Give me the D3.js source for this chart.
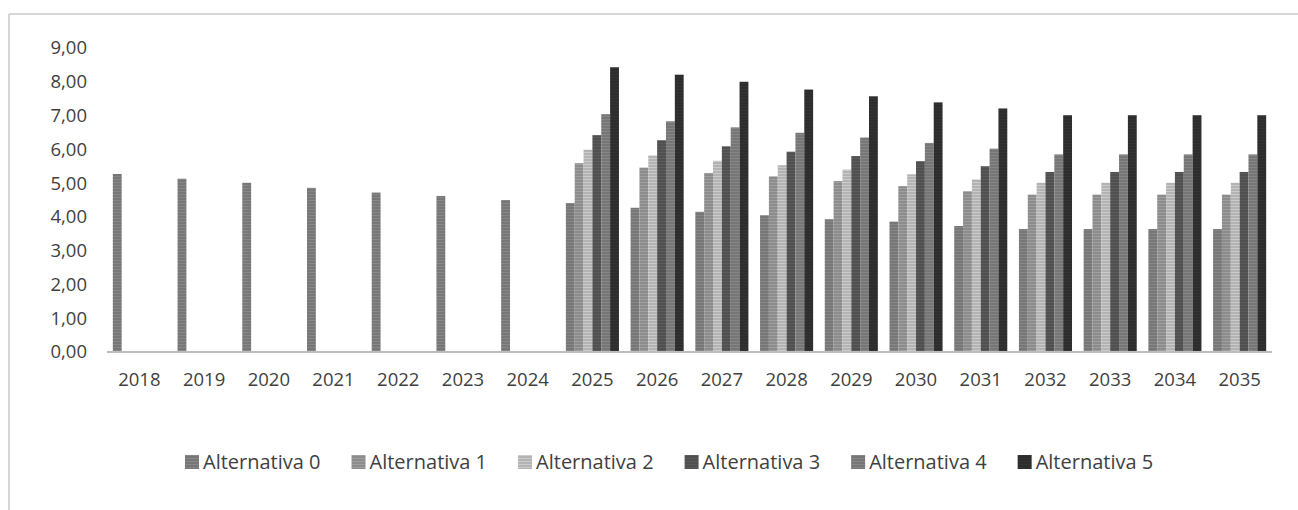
<!DOCTYPE html>
<html>
<head>
<meta charset="utf-8">
<script src="https://cdn.jsdelivr.net/npm/d3@7"></script>
<style>
  html, body { margin: 0; padding: 0; background: #fff; }
  svg { display: block; }
  text { font-family: "Open Sans", sans-serif; fill: #3f3f3f; }
</style>
</head>
<body>
<svg id="chart" width="1298" height="510"></svg>
<script>
// Years on the category axis
const years = ["2018","2019","2020","2021","2022","2023","2024","2025","2026","2027",
               "2028","2029","2030","2031","2032","2033","2034","2035"];

// Series names shown in the legend
const seriesNames = ["Alternativa 0","Alternativa 1","Alternativa 2",
                     "Alternativa 3","Alternativa 4","Alternativa 5"];

// Values per series (null = no bar for that year)
const alt0 = [5.27, 5.13, 5.01, 4.86, 4.72, 4.62, 4.50, 4.41, 4.27, 4.15, 4.05, 3.93, 3.86, 3.73, 3.64, 3.64, 3.64, 3.64];
const alt1 = [null, null, null, null, null, null, null, 5.59, 5.46, 5.30, 5.20, 5.06, 4.91, 4.76, 4.66, 4.66, 4.66, 4.66];
const alt2 = [null, null, null, null, null, null, null, 5.99, 5.82, 5.66, 5.53, 5.40, 5.26, 5.11, 5.01, 5.01, 5.01, 5.01];
const alt3 = [null, null, null, null, null, null, null, 6.42, 6.27, 6.09, 5.93, 5.80, 5.65, 5.50, 5.33, 5.33, 5.33, 5.33];
const alt4 = [null, null, null, null, null, null, null, 7.04, 6.83, 6.65, 6.49, 6.35, 6.19, 6.02, 5.85, 5.85, 5.85, 5.85];
const alt5 = [null, null, null, null, null, null, null, 8.43, 8.21, 8.00, 7.77, 7.57, 7.39, 7.21, 7.01, 7.01, 7.01, 7.01];

// Y-axis tick values
const yTicks = [0, 1, 2, 3, 4, 5, 6, 7, 8, 9];

const seriesValues = [alt0, alt1, alt2, alt3, alt4, alt5];
const colors = ["#777777", "#8c8c8c", "#b3b3b3", "#505050", "#767676", "#2d2d2d"];

const svg = d3.select("#chart");

// Outer frame (top and left edges)
svg.append("line").attr("x1", 9).attr("x2", 1298).attr("y1", 14).attr("y2", 14)
  .attr("stroke", "#c8c8c8").attr("stroke-width", 1.5);
svg.append("line").attr("x1", 9).attr("x2", 9).attr("y1", 14).attr("y2", 510)
  .attr("stroke", "#c8c8c8").attr("stroke-width", 1.5);

// Striped fills for the bars
const defs = svg.append("defs");
colors.forEach((c, i) => {
  const p = defs.append("pattern").attr("id", "fill" + i)
    .attr("patternUnits", "userSpaceOnUse").attr("width", 4).attr("height", 3);
  p.append("rect").attr("width", 4).attr("height", 3).attr("fill", c);
  p.append("rect").attr("y", 2).attr("width", 4).attr("height", 1)
    .attr("fill", d3.color(c).brighter(0.35));
});

const x0 = d3.scaleBand().domain(years).range([107, 1272])
  .paddingInner(0.18).paddingOuter(0.09);
const x1 = d3.scaleBand().domain(d3.range(seriesNames.length)).range([0, x0.bandwidth()]);
const y = d3.scaleLinear().domain([0, 9]).range([352, 48]);

// Y axis labels
const yAxis = svg.append("g").attr("transform", "translate(87,0)")
  .call(d3.axisLeft(y).tickValues(yTicks).tickSize(0).tickPadding(0)
    .tickFormat(d => d3.format(".2f")(d).replace(".", ",")));
yAxis.select(".domain").remove();
yAxis.selectAll("text").style("font-size", "18.5px").attr("fill", "#3f3f3f")
  .attr("font-family", "Open Sans, sans-serif");

// Bars
years.forEach((yr, j) => {
  const g = svg.append("g").attr("transform", `translate(${x0(yr)},0)`);
  seriesValues.forEach((vals, i) => {
    const v = vals[j];
    if (v == null) return;
    g.append("rect")
      .attr("x", x1(i))
      .attr("width", x1.bandwidth())
      .attr("y", y(v))
      .attr("height", y(0) - y(v))
      .attr("fill", `url(#fill${i})`);
  });
});

// X axis
const xAxis = svg.append("g").attr("transform", `translate(0,${y(0)})`)
  .call(d3.axisBottom(x0).tickSize(0).tickPadding(21));
xAxis.select(".domain").attr("stroke", "#bdbdbd").attr("stroke-width", 2)
  .attr("d", `M${x0.range()[0]},0H${x0.range()[1]}`);
xAxis.selectAll("text").style("font-size", "18.5px").attr("fill", "#3f3f3f")
  .attr("font-family", "Open Sans, sans-serif");

// Legend
const legend = svg.append("g").attr("transform", "translate(185,462)");
let lx = 0;
seriesNames.forEach((name, i) => {
  const item = legend.append("g").attr("transform", `translate(${lx},0)`);
  item.append("rect").attr("x", 0).attr("y", -7).attr("width", 14).attr("height", 14)
    .attr("fill", `url(#fill${i})`);
  const t = item.append("text").attr("x", 18).attr("y", 0).attr("dy", "0.35em")
    .style("font-size", "20px").text(name);
  lx += 18 + t.node().getComputedTextLength() + 31;
});
</script>
</body>
</html>
